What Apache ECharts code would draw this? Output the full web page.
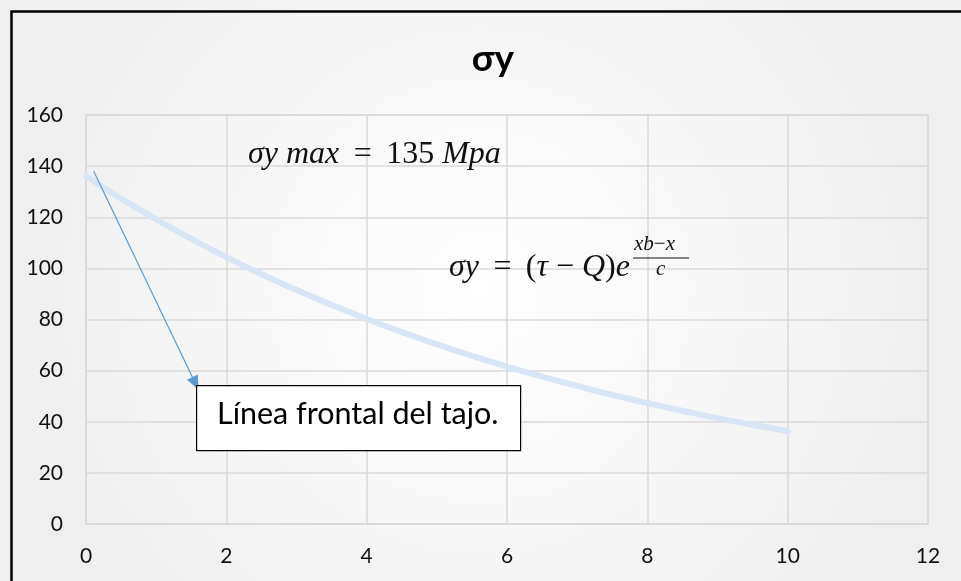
<!DOCTYPE html>
<html>
<head>
<meta charset="utf-8">
<script src="https://cdn.jsdelivr.net/npm/echarts@6/dist/echarts.min.js"></script>
<style>
html,body{margin:0;padding:0;background:#fff;}
#c{width:961px;height:581px;}
</style>
</head>
<body>
<div id="c"></div>
<script>
// Data
const xValues = [0, 0.5, 1, 1.5, 2, 2.5, 3, 3.5, 4, 4.5, 5, 5.5, 6, 6.5, 7, 7.5, 8, 8.5, 9, 9.5, 10];
const sigmaY  = [136, 127.3, 119.2, 111.5, 104.4, 97.7, 91.5, 85.7, 80.2, 75.1, 70.3, 65.8, 61.6, 57.7, 54.0, 50.5, 47.3, 44.3, 41.4, 38.8, 36.3];
const arrowStart = [0.11, 138];
const arrowEnd = [1.56, 55];
const xTicks = [0, 2, 4, 6, 8, 10, 12];
const yTicks = [0, 20, 40, 60, 80, 100, 120, 140, 160];
const titleText = 'σy';
const noteText = 'Línea frontal del tajo.';

const chart = echarts.init(document.getElementById('c'), null, {renderer: 'canvas'});
const font = 'Lato, "Open Sans", sans-serif';
const mathFont = '"Liberation Serif", "DejaVu Serif", serif';
const sp = '\u00a0';
const spEq = '\u00a0\u2009';
const mathRich = (size) => ({
  i: {fontFamily: mathFont, fontStyle: 'italic', fontSize: size, fill: '#111'},
  n: {fontFamily: mathFont, fontSize: size, fill: '#111'}
});

chart.setOption({
  animation: false,
  backgroundColor: {
    type: 'radial', x: 0.5, y: 0.5, r: 0.8,
    colorStops: [{offset: 0, color: '#ffffff'}, {offset: 1, color: '#efefef'}]
  },
  title: {
    text: titleText,
    left: 488, top: 36, textAlign: 'center',
    textStyle: {fontFamily: font, fontSize: 37, fontWeight: 'bold', color: '#000'}
  },
  grid: {left: 86, right: 33, top: 115, bottom: 57, show: true, borderColor: '#d9d9d9', borderWidth: 1.5},
  xAxis: {
    type: 'value', min: xTicks[0], max: xTicks[xTicks.length - 1], interval: 2,
    axisLine: {show: true, lineStyle: {color: '#d9d9d9', width: 1.5}},
    axisTick: {show: false},
    splitLine: {show: true, lineStyle: {color: '#d9d9d9', width: 1.5}},
    axisLabel: {margin: 22, fontFamily: font, fontSize: 21, color: '#111'}
  },
  yAxis: {
    type: 'value', min: yTicks[0], max: yTicks[yTicks.length - 1], interval: 20,
    axisLine: {show: false},
    axisTick: {show: false},
    splitLine: {show: true, lineStyle: {color: '#d9d9d9', width: 1.5}},
    axisLabel: {margin: 23, fontFamily: font, fontSize: 21, color: '#111'}
  },
  series: [
    {
      type: 'line',
      data: xValues.map((x, i) => [x, sigmaY[i]]),
      smooth: true,
      showSymbol: false,
      lineStyle: {color: '#d8e5f4', width: 6, cap: 'round'},
      z: 2
    },
    {
      type: 'line',
      data: [],
      markLine: {
        silent: true,
        symbol: ['none', 'triangle'],
        symbolSize: [12, 14],
        label: {show: false},
        lineStyle: {color: '#5b9bd5', width: 1.2, type: 'solid'},
        data: [[{coord: arrowStart}, {coord: arrowEnd}]]
      },
      z: 5
    }
  ],
  graphic: [
    {
      type: 'rect', left: 9, top: 9, z: 100, silent: true,
      shape: {width: 1000, height: 700},
      style: {fill: 'none', stroke: '#000', lineWidth: 2.5}
    },
    {
      type: 'rect', left: 196, top: 385, z: 50,
      shape: {width: 324, height: 65},
      style: {fill: '#fff', stroke: '#000', lineWidth: 1.2}
    },
    {
      type: 'text', left: 217, top: 399, z: 51,
      style: {text: noteText, fontFamily: font, fontSize: 30.5, fill: '#000'}
    },
    {
      type: 'text', left: 248, top: 139, z: 51,
      style: {text: '{i|σy' + sp + 'max}{n|' + spEq + '=' + spEq + '135' + sp + '}{i|Mpa}', rich: mathRich(32)}
    },
    {
      type: 'text', left: 449, top: 252, z: 51,
      style: {text: '{i|σy}{n|' + spEq + '=' + spEq + '(}{i|τ}{n|' + sp + '−' + sp + '}{i|Q}{n|)}{i|e}', rich: mathRich(32)}
    },
    {
      type: 'text', left: 634, top: 234, z: 51,
      style: {text: '{i|xb}{n|−}{i|x}', rich: mathRich(21)}
    },
    {
      type: 'line', z: 51,
      shape: {x1: 633, y1: 258, x2: 689, y2: 258},
      style: {stroke: '#111', lineWidth: 1.2}
    },
    {
      type: 'text', left: 656, top: 259, z: 51,
      style: {text: 'c', fontFamily: mathFont, fontStyle: 'italic', fontSize: 21, fill: '#111'}
    }
  ]
});
</script>
</body>
</html>
